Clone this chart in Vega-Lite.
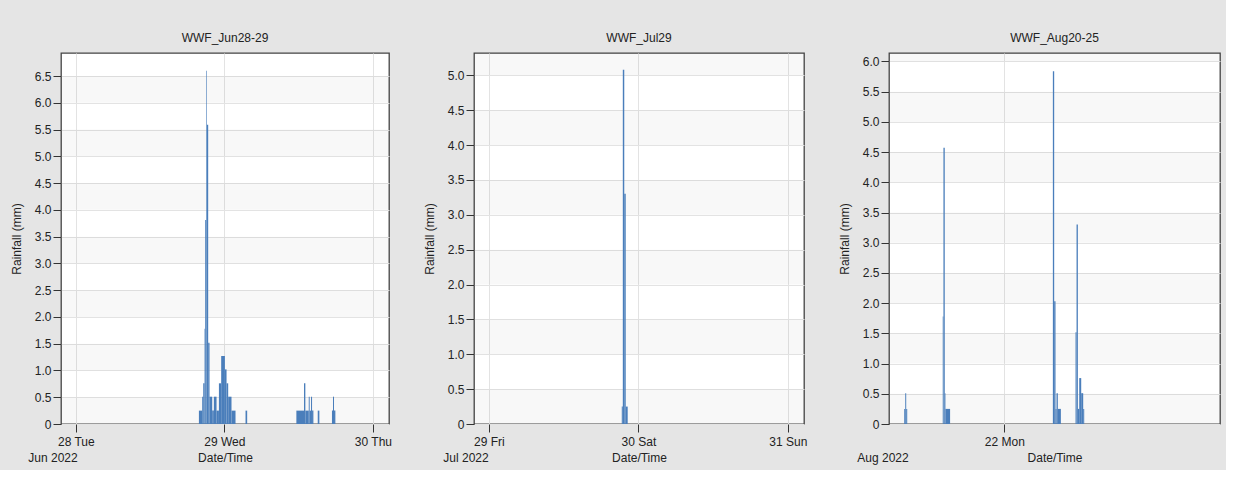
{
  "$schema": "https://vega.github.io/schema/vega-lite/v6.json",
  "padding": {"left": 9, "top": 31, "right": 5, "bottom": 5},
  "bounds": "flush",
  "spacing": 85,
  "datasets": {
    "bands": [
      {"lo": 0, "hi": 0.5}, {"lo": 1, "hi": 1.5}, {"lo": 2, "hi": 2.5}, {"lo": 3, "hi": 3.5},
      {"lo": 4, "hi": 4.5}, {"lo": 5, "hi": 5.5}, {"lo": 6, "hi": 6.5}
    ],
    "rain": [
      {"panel": "jun", "start": "2022-06-28T19:53:00", "end": "2022-06-28T20:25:00", "mm": 0.25},
      {"panel": "jun", "start": "2022-06-28T20:25:00", "end": "2022-06-28T20:35:00", "mm": 0.51},
      {"panel": "jun", "start": "2022-06-28T20:35:00", "end": "2022-06-28T20:48:00", "mm": 0.76},
      {"panel": "jun", "start": "2022-06-28T20:48:00", "end": "2022-06-28T20:54:00", "mm": 1.78},
      {"panel": "jun", "start": "2022-06-28T20:54:00", "end": "2022-06-28T21:04:00", "mm": 3.81},
      {"panel": "jun", "start": "2022-06-28T21:04:00", "end": "2022-06-28T21:10:00", "mm": 6.6},
      {"panel": "jun", "start": "2022-06-28T21:10:00", "end": "2022-06-28T21:23:00", "mm": 5.59},
      {"panel": "jun", "start": "2022-06-28T21:23:00", "end": "2022-06-28T21:36:00", "mm": 1.52},
      {"panel": "jun", "start": "2022-06-28T21:36:00", "end": "2022-06-28T22:02:00", "mm": 0.51},
      {"panel": "jun", "start": "2022-06-28T22:02:00", "end": "2022-06-28T22:18:00", "mm": 0.25},
      {"panel": "jun", "start": "2022-06-28T22:18:00", "end": "2022-06-28T22:44:00", "mm": 0.51},
      {"panel": "jun", "start": "2022-06-28T22:44:00", "end": "2022-06-28T23:07:00", "mm": 0.25},
      {"panel": "jun", "start": "2022-06-28T23:07:00", "end": "2022-06-28T23:29:00", "mm": 0.76},
      {"panel": "jun", "start": "2022-06-28T23:29:00", "end": "2022-06-29T00:05:00", "mm": 1.27},
      {"panel": "jun", "start": "2022-06-29T00:05:00", "end": "2022-06-29T00:21:00", "mm": 1.02},
      {"panel": "jun", "start": "2022-06-29T00:21:00", "end": "2022-06-29T00:37:00", "mm": 0.76},
      {"panel": "jun", "start": "2022-06-29T00:37:00", "end": "2022-06-29T01:09:00", "mm": 0.51},
      {"panel": "jun", "start": "2022-06-29T01:09:00", "end": "2022-06-29T01:48:00", "mm": 0.25},
      {"panel": "jun", "start": "2022-06-29T03:25:00", "end": "2022-06-29T03:41:00", "mm": 0.25},
      {"panel": "jun", "start": "2022-06-29T11:38:00", "end": "2022-06-29T12:52:00", "mm": 0.25},
      {"panel": "jun", "start": "2022-06-29T12:52:00", "end": "2022-06-29T13:05:00", "mm": 0.76},
      {"panel": "jun", "start": "2022-06-29T13:05:00", "end": "2022-06-29T13:38:00", "mm": 0.25},
      {"panel": "jun", "start": "2022-06-29T13:38:00", "end": "2022-06-29T13:47:00", "mm": 0.51},
      {"panel": "jun", "start": "2022-06-29T13:47:00", "end": "2022-06-29T14:00:00", "mm": 0.25},
      {"panel": "jun", "start": "2022-06-29T14:00:00", "end": "2022-06-29T14:10:00", "mm": 0.51},
      {"panel": "jun", "start": "2022-06-29T14:10:00", "end": "2022-06-29T14:23:00", "mm": 0.25},
      {"panel": "jun", "start": "2022-06-29T15:05:00", "end": "2022-06-29T15:21:00", "mm": 0.25},
      {"panel": "jun", "start": "2022-06-29T17:23:00", "end": "2022-06-29T17:33:00", "mm": 0.25},
      {"panel": "jun", "start": "2022-06-29T17:33:00", "end": "2022-06-29T17:43:00", "mm": 0.51},
      {"panel": "jun", "start": "2022-06-29T17:43:00", "end": "2022-06-29T17:56:00", "mm": 0.25},
      {"panel": "jul", "start": "2022-07-29T21:20:00", "end": "2022-07-29T21:30:00", "mm": 0.25},
      {"panel": "jul", "start": "2022-07-29T21:30:00", "end": "2022-07-29T21:44:00", "mm": 5.08},
      {"panel": "jul", "start": "2022-07-29T21:44:00", "end": "2022-07-29T21:58:00", "mm": 3.3},
      {"panel": "jul", "start": "2022-07-29T21:58:00", "end": "2022-07-29T22:17:00", "mm": 0.25},
      {"panel": "aug", "start": "2022-08-20T00:05:00", "end": "2022-08-20T00:34:00", "mm": 0.25},
      {"panel": "aug", "start": "2022-08-20T00:34:00", "end": "2022-08-20T01:02:00", "mm": 0.51},
      {"panel": "aug", "start": "2022-08-20T01:02:00", "end": "2022-08-20T01:31:00", "mm": 0.25},
      {"panel": "aug", "start": "2022-08-20T18:31:00", "end": "2022-08-20T18:51:00", "mm": 1.78},
      {"panel": "aug", "start": "2022-08-20T18:51:00", "end": "2022-08-20T19:29:00", "mm": 4.57},
      {"panel": "aug", "start": "2022-08-20T19:29:00", "end": "2022-08-20T19:48:00", "mm": 0.51},
      {"panel": "aug", "start": "2022-08-20T19:48:00", "end": "2022-08-20T22:02:00", "mm": 0.25},
      {"panel": "aug", "start": "2022-08-22T23:13:00", "end": "2022-08-22T23:51:00", "mm": 5.84},
      {"panel": "aug", "start": "2022-08-22T23:51:00", "end": "2022-08-23T00:29:00", "mm": 2.03},
      {"panel": "aug", "start": "2022-08-23T00:29:00", "end": "2022-08-23T00:58:00", "mm": 0.25},
      {"panel": "aug", "start": "2022-08-23T00:58:00", "end": "2022-08-23T01:36:00", "mm": 0.51},
      {"panel": "aug", "start": "2022-08-23T01:36:00", "end": "2022-08-23T03:03:00", "mm": 0.25},
      {"panel": "aug", "start": "2022-08-23T10:04:00", "end": "2022-08-23T10:33:00", "mm": 1.52},
      {"panel": "aug", "start": "2022-08-23T10:33:00", "end": "2022-08-23T11:11:00", "mm": 3.3},
      {"panel": "aug", "start": "2022-08-23T11:11:00", "end": "2022-08-23T11:50:00", "mm": 0.25},
      {"panel": "aug", "start": "2022-08-23T11:50:00", "end": "2022-08-23T12:47:00", "mm": 0.76},
      {"panel": "aug", "start": "2022-08-23T12:47:00", "end": "2022-08-23T13:44:00", "mm": 0.51},
      {"panel": "aug", "start": "2022-08-23T13:44:00", "end": "2022-08-23T14:13:00", "mm": 0.25}
    ]
  },
  "hconcat": [
    {
      "title": "WWF_Jun28-29",
      "width": 328,
      "height": 371,
      "layer": [
        {
          "data": {"name": "bands"},
          "mark": {"type": "rect", "fill": "#000000", "opacity": 0.028, "clip": true},
          "encoding": {
            "y": {"field": "lo", "type": "quantitative", "scale": {"domain": [0, 6.93], "nice": false, "zero": true},
              "axis": {"title": "Rainfall (mm)", "tickCount": 14, "values": [0, 0.5, 1, 1.5, 2, 2.5, 3, 3.5, 4, 4.5, 5, 5.5, 6, 6.5], "labelOverlap": false, "format": ".1f",
                "labelExpr": "datum.value == 0 ? '0' : datum.label"}},
            "y2": {"field": "hi"}
          }
        },
        {
          "data": {"name": "rain"},
          "transform": [{"filter": "datum.panel == 'jun'"}],
          "mark": {"type": "rect", "color": "#4a7ebb"},
          "encoding": {
            "x": {"field": "start", "type": "temporal",
              "scale": {"domain": [{"year": 2022, "month": "jun", "date": 27, "hours": 21, "minutes": 36}, {"year": 2022, "month": "jun", "date": 30, "hours": 2, "minutes": 36}]},
              "axis": {"title": "Date/Time", "grid": true,
                "values": [{"year": 2022, "month": "jun", "date": 28}, {"year": 2022, "month": "jun", "date": 29}, {"year": 2022, "month": "jun", "date": 30}],
                "labelExpr": "timeFormat(datum.value, '%d %a')"}},
            "x2": {"field": "end"},
            "y": {"field": "mm", "type": "quantitative", "scale": {"domain": [0, 6.93], "nice": false, "zero": true},
              "axis": {"title": "Rainfall (mm)", "tickCount": 14, "values": [0, 0.5, 1, 1.5, 2, 2.5, 3, 3.5, 4, 4.5, 5, 5.5, 6, 6.5], "labelOverlap": false, "format": ".1f",
                "labelExpr": "datum.value == 0 ? '0' : datum.label"}},
            "y2": {"datum": 0}
          }
        },
        {
          "data": {"values": [{"lab": "Jun 2022"}]},
          "mark": {"type": "text", "baseline": "middle", "align": "center", "dy": 34, "dx": -8, "fontSize": 12, "color": "#222"},
          "encoding": {
            "x": {"datum": {"year": 2022, "month": "jun", "date": 27, "hours": 21, "minutes": 36}, "type": "temporal"},
            "y": {"datum": 0, "type": "quantitative"},
            "text": {"field": "lab"}
          }
        }
      ]
    },
    {
      "title": "WWF_Jul29",
      "width": 330,
      "height": 371,
      "layer": [
        {
          "data": {"name": "bands"},
          "mark": {"type": "rect", "fill": "#000000", "opacity": 0.028, "clip": true},
          "encoding": {
            "y": {"field": "lo", "type": "quantitative", "scale": {"domain": [0, 5.32], "nice": false, "zero": true},
              "axis": {"title": "Rainfall (mm)", "tickCount": 11, "values": [0, 0.5, 1, 1.5, 2, 2.5, 3, 3.5, 4, 4.5, 5], "labelOverlap": false, "format": ".1f",
                "labelExpr": "datum.value == 0 ? '0' : datum.label"}},
            "y2": {"field": "hi"}
          }
        },
        {
          "data": {"name": "rain"},
          "transform": [{"filter": "datum.panel == 'jul'"}],
          "mark": {"type": "rect", "color": "#4a7ebb"},
          "encoding": {
            "x": {"field": "start", "type": "temporal",
              "scale": {"domain": [{"year": 2022, "month": "jul", "date": 28, "hours": 21, "minutes": 36}, {"year": 2022, "month": "jul", "date": 31, "hours": 2, "minutes": 36}]},
              "axis": {"title": "Date/Time", "grid": true,
                "values": [{"year": 2022, "month": "jul", "date": 29}, {"year": 2022, "month": "jul", "date": 30}, {"year": 2022, "month": "jul", "date": 31}],
                "labelExpr": "timeFormat(datum.value, '%d %a')"}},
            "x2": {"field": "end"},
            "y": {"field": "mm", "type": "quantitative", "scale": {"domain": [0, 5.32], "nice": false, "zero": true},
              "axis": {"title": "Rainfall (mm)", "tickCount": 11, "values": [0, 0.5, 1, 1.5, 2, 2.5, 3, 3.5, 4, 4.5, 5], "labelOverlap": false, "format": ".1f",
                "labelExpr": "datum.value == 0 ? '0' : datum.label"}},
            "y2": {"datum": 0}
          }
        },
        {
          "data": {"values": [{"lab": "Jul 2022"}]},
          "mark": {"type": "text", "baseline": "middle", "align": "center", "dy": 34, "dx": -8, "fontSize": 12, "color": "#222"},
          "encoding": {
            "x": {"datum": {"year": 2022, "month": "jul", "date": 28, "hours": 21, "minutes": 36}, "type": "temporal"},
            "y": {"datum": 0, "type": "quantitative"},
            "text": {"field": "lab"}
          }
        }
      ]
    },
    {
      "title": "WWF_Aug20-25",
      "width": 331,
      "height": 371,
      "layer": [
        {
          "data": {"name": "bands"},
          "mark": {"type": "rect", "fill": "#000000", "opacity": 0.028, "clip": true},
          "encoding": {
            "y": {"field": "lo", "type": "quantitative", "scale": {"domain": [0, 6.14], "nice": false, "zero": true},
              "axis": {"title": "Rainfall (mm)", "tickCount": 13, "values": [0, 0.5, 1, 1.5, 2, 2.5, 3, 3.5, 4, 4.5, 5, 5.5, 6], "labelOverlap": false, "format": ".1f",
                "labelExpr": "datum.value == 0 ? '0' : datum.label"}},
            "y2": {"field": "hi"}
          }
        },
        {
          "data": {"name": "rain"},
          "transform": [{"filter": "datum.panel == 'aug'"}],
          "mark": {"type": "rect", "color": "#4a7ebb"},
          "encoding": {
            "x": {"field": "start", "type": "temporal",
              "scale": {"domain": [{"year": 2022, "month": "aug", "date": 19, "hours": 16, "minutes": 48}, {"year": 2022, "month": "aug", "date": 26, "hours": 7, "minutes": 12}]},
              "axis": {"title": "Date/Time", "grid": true,
                "values": [{"year": 2022, "month": "aug", "date": 22}],
                "labelExpr": "timeFormat(datum.value, '%d %a')"}},
            "x2": {"field": "end"},
            "y": {"field": "mm", "type": "quantitative", "scale": {"domain": [0, 6.14], "nice": false, "zero": true},
              "axis": {"title": "Rainfall (mm)", "tickCount": 13, "values": [0, 0.5, 1, 1.5, 2, 2.5, 3, 3.5, 4, 4.5, 5, 5.5, 6], "labelOverlap": false, "format": ".1f",
                "labelExpr": "datum.value == 0 ? '0' : datum.label"}},
            "y2": {"datum": 0}
          }
        },
        {
          "data": {"values": [{"lab": "Aug 2022"}]},
          "mark": {"type": "text", "baseline": "middle", "align": "center", "dy": 34, "dx": -6, "fontSize": 12, "color": "#222"},
          "encoding": {
            "x": {"datum": {"year": 2022, "month": "aug", "date": 19, "hours": 16, "minutes": 48}, "type": "temporal"},
            "y": {"datum": 0, "type": "quantitative"},
            "text": {"field": "lab"}
          }
        }
      ]
    }
  ],
  "config": {
    "background": "#e5e5e5",
    "font": "Liberation Sans",
    "view": {"stroke": "#444444", "strokeWidth": 1.3, "fill": "#ffffff"},
    "axis": {
      "labelFont": "Liberation Sans", "labelFontSize": 12, "labelColor": "#222222",
      "titleFont": "Liberation Sans", "titleFontSize": 12, "titleFontWeight": "normal", "titleColor": "#222222",
      "gridColor": "#e3e3e3", "tickColor": "#333333", "tickSize": 8, "domain": false, "labelPadding": 2
    },
    "axisY": {"titlePadding": 11, "labelOverlap": false},
    "axisX": {"titlePadding": 5, "labelOverlap": false, "labelPadding": 4},
    "title": {"fontSize": 12, "fontWeight": "normal", "color": "#222222", "font": "Liberation Sans", "offset": 8}
  }
}
